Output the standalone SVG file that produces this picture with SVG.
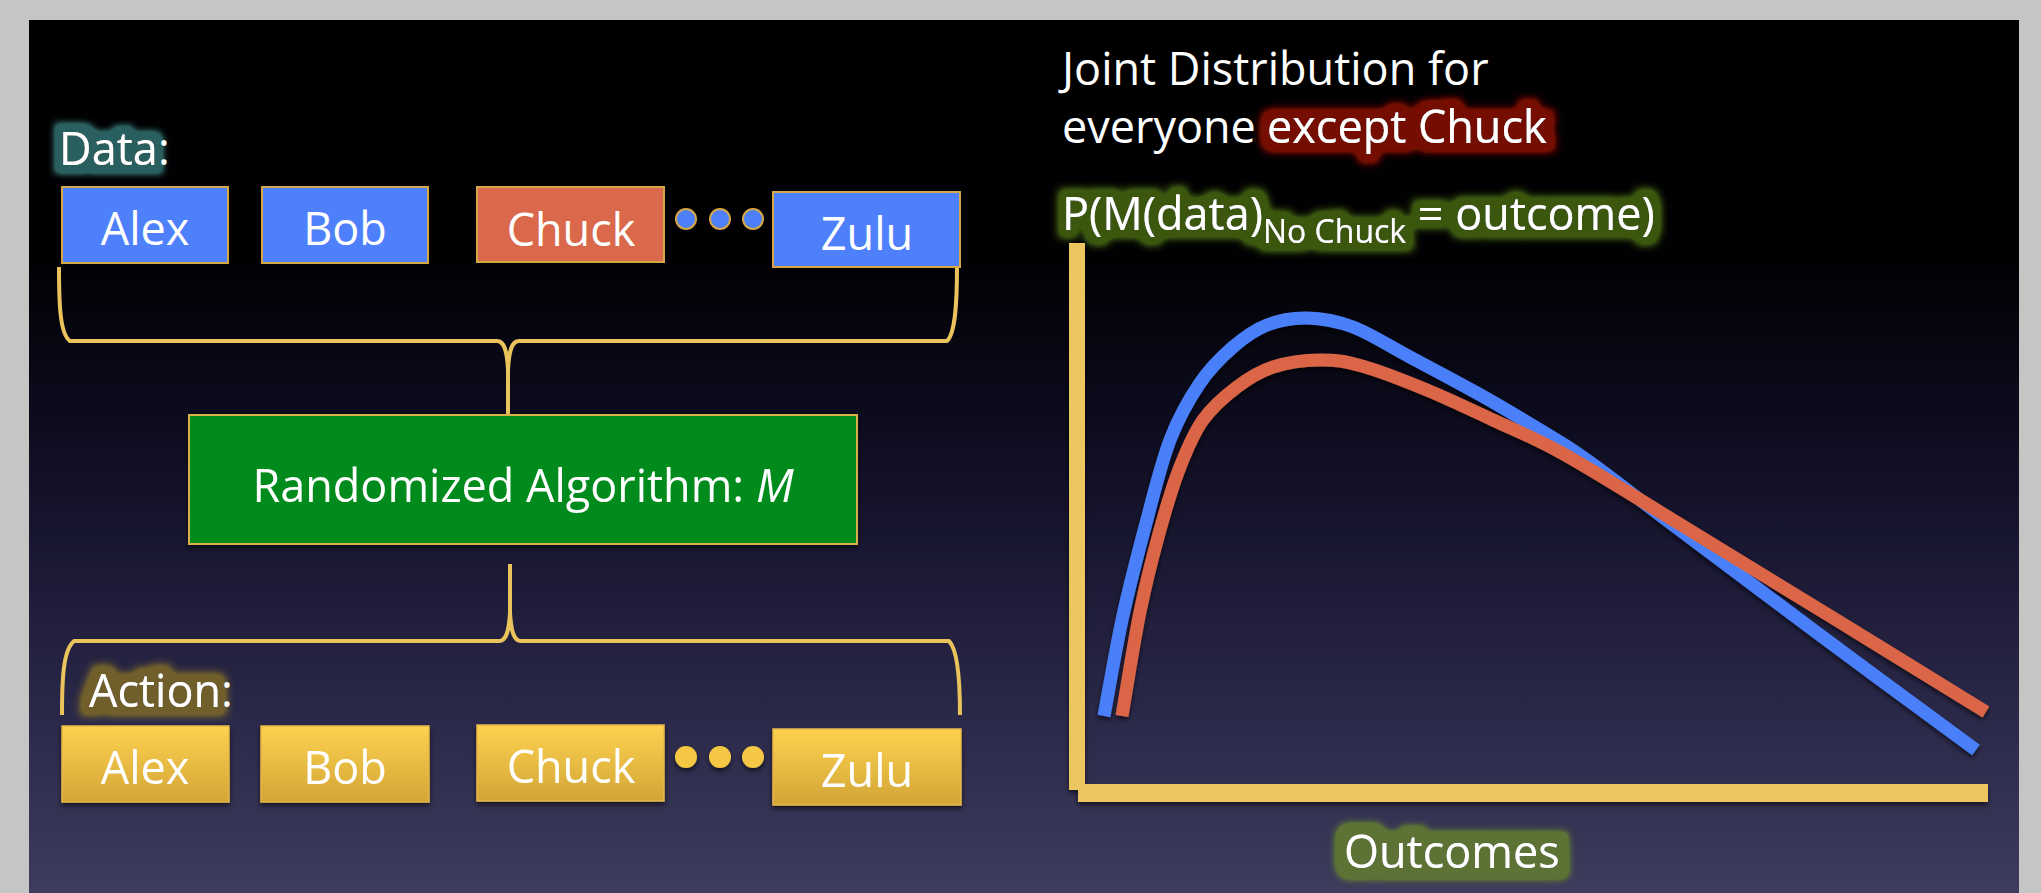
<svg xmlns="http://www.w3.org/2000/svg" width="2041" height="893" viewBox="0 0 2041 893">
  <defs>
    <linearGradient id="slideBg" x1="0" y1="0" x2="0" y2="1">
      <stop offset="0" stop-color="#000000"/>
      <stop offset="0.28" stop-color="#010104"/>
      <stop offset="0.45" stop-color="#0c0b1d"/>
      <stop offset="0.62" stop-color="#1a1833"/>
      <stop offset="0.8" stop-color="#2b2949"/>
      <stop offset="1" stop-color="#3d3c5c"/>
    </linearGradient>
    <linearGradient id="goldFill" x1="0" y1="0" x2="0" y2="1">
      <stop offset="0" stop-color="#fed250"/>
      <stop offset="1" stop-color="#d2a536"/>
    </linearGradient>
    <filter id="shadow" x="-10%" y="-20%" width="120%" height="160%">
      <feGaussianBlur in="SourceAlpha" stdDeviation="2.5"/>
      <feOffset dy="3" result="b"/>
      <feComponentTransfer><feFuncA type="linear" slope="0.6"/></feComponentTransfer>
      <feMerge><feMergeNode/><feMergeNode in="SourceGraphic"/></feMerge>
    </filter>
    <!-- soft coloured halo behind a text, text kept on top -->
    <filter id="haloTeal" x="-20%" y="-50%" width="140%" height="200%">
      <feMorphology in="SourceAlpha" operator="dilate" radius="8" result="d"/>
      <feGaussianBlur in="d" stdDeviation="3.5" result="b"/>
      <feComponentTransfer in="b" result="c"><feFuncA type="linear" slope="2"/></feComponentTransfer>
      <feFlood flood-color="#2c5f5e" result="f"/>
      <feComposite in="f" in2="c" operator="in" result="g"/>
      <feMerge><feMergeNode in="g"/><feMergeNode in="SourceGraphic"/></feMerge>
    </filter>
    <filter id="haloOlive" x="-20%" y="-50%" width="140%" height="200%">
      <feMorphology in="SourceAlpha" operator="dilate" radius="8" result="d"/>
      <feGaussianBlur in="d" stdDeviation="4.5" result="b"/>
      <feComponentTransfer in="b" result="c"><feFuncA type="linear" slope="1.8"/></feComponentTransfer>
      <feFlood flood-color="#6f5f2b" result="f"/>
      <feComposite in="f" in2="c" operator="in" result="g"/>
      <feMerge><feMergeNode in="g"/><feMergeNode in="SourceGraphic"/></feMerge>
    </filter>
    <filter id="haloRed" x="-20%" y="-50%" width="140%" height="200%">
      <feMorphology in="SourceAlpha" operator="dilate" radius="8" result="d"/>
      <feGaussianBlur in="d" stdDeviation="4.5" result="b"/>
      <feComponentTransfer in="b" result="c"><feFuncA type="linear" slope="2"/></feComponentTransfer>
      <feFlood flood-color="#740b03" result="f"/>
      <feComposite in="f" in2="c" operator="in" result="g"/>
      <feMerge><feMergeNode in="g"/><feMergeNode in="SourceGraphic"/></feMerge>
    </filter>
    <filter id="haloGreen" x="-10%" y="-50%" width="120%" height="200%">
      <feMorphology in="SourceAlpha" operator="dilate" radius="7" result="d"/>
      <feGaussianBlur in="d" stdDeviation="4.5" result="b"/>
      <feComponentTransfer in="b" result="c"><feFuncA type="linear" slope="2"/></feComponentTransfer>
      <feFlood flood-color="#3b5710" result="f"/>
      <feComposite in="f" in2="c" operator="in" result="g"/>
      <feMerge><feMergeNode in="g"/><feMergeNode in="SourceGraphic"/></feMerge>
    </filter>
    <filter id="haloMoss" x="-20%" y="-50%" width="140%" height="200%">
      <feMorphology in="SourceAlpha" operator="dilate" radius="11" result="d"/>
      <feGaussianBlur in="d" stdDeviation="3.5" result="b"/>
      <feComponentTransfer in="b" result="c"><feFuncA type="linear" slope="2"/></feComponentTransfer>
      <feFlood flood-color="#5c7335" result="f"/>
      <feComposite in="f" in2="c" operator="in" result="g"/>
      <feMerge><feMergeNode in="g"/><feMergeNode in="SourceGraphic"/></feMerge>
    </filter>
  </defs>
  <style>
    text { font-family: "Open Sans", "Noto Sans", "Liberation Sans", sans-serif; font-size: 45px; fill: #ffffff; }
    .mid { text-anchor: middle; }
    .box { stroke-width: 2; }
    .blue { fill: #4e80fc; stroke: #d6a747; }
    .chuck { fill: #da684a; stroke: #d6a747; }
    .gold { fill: url(#goldFill); stroke: #e4b84a; stroke-width: 1.5; }
    .dotBlue { fill: #4e80fc; stroke: #d6a747; stroke-width: 2; }
    .dotGold { fill: #f4c845; }
    .brace { fill: none; stroke: #ebc35c; stroke-width: 4; stroke-linejoin: round; }
    .axis { fill: #ecc75f; }
    .curve { fill: none; stroke-width: 13; stroke-linecap: butt; stroke-linejoin: round; }
  </style>

  <!-- page margin and slide -->
  <rect x="0" y="0" width="2041" height="893" fill="#c5c6c4"/>
  <rect x="29" y="20" width="1990" height="873" fill="url(#slideBg)"/>

  <!-- braces joining the rows to the algorithm -->
  <g id="connectors">
    <path class="brace" d="M59,267 C59,305 60,334 70,341 L497,341 C504,341 507,350 508,370 L508,415 M508,370 C509,350 512,341 519,341 L947,341 C955,334 957,305 957,267"/>
    <path class="brace" d="M62,715 C62,680 63,650 74,641 L499,641 C506,641 509,632 510,612 L510,564 M510,612 C511,632 514,641 521,641 L949,641 C958,650 960,680 960,715"/>
  </g>

  <!-- input row -->
  <g id="data-label">
    <text x="59" y="165" filter="url(#haloTeal)">Data</text>
    <text x="158" y="165">:</text>
  </g>
  <g id="data-alex">
    <rect class="box blue" x="62" y="187" width="166" height="76"/>
    <text class="mid" x="145" y="245">Alex</text>
  </g>
  <g id="data-bob">
    <rect class="box blue" x="262" y="187" width="166" height="76"/>
    <text class="mid" x="345" y="245">Bob</text>
  </g>
  <g id="data-chuck">
    <rect class="box chuck" x="477" y="187" width="187" height="75"/>
    <text class="mid" x="571" y="246">Chuck</text>
  </g>
  <g id="data-ellipsis">
    <circle class="dotBlue" cx="686" cy="219" r="10"/>
    <circle class="dotBlue" cx="720" cy="219" r="10"/>
    <circle class="dotBlue" cx="753" cy="219" r="10"/>
  </g>
  <g id="data-zulu">
    <rect class="box blue" x="773" y="192" width="187" height="75"/>
    <text class="mid" x="867" y="250">Zulu</text>
  </g>

  <!-- mechanism -->
  <g id="algorithm" filter="url(#shadow)">
    <rect x="189" y="415" width="668" height="129" fill="#028b1c" stroke="#d6b04a" stroke-width="2"/>
    <text class="mid" x="523" y="502">Randomized Algorithm: <tspan font-style="italic">M</tspan></text>
  </g>

  <!-- output row -->
  <g id="action-label">
    <text x="89" y="707" filter="url(#haloOlive)">Action</text>
    <text x="221" y="707">:</text>
  </g>
  <g id="action-alex" filter="url(#shadow)">
    <rect class="gold" x="62" y="726" width="167" height="76"/>
    <text class="mid" x="145" y="784">Alex</text>
  </g>
  <g id="action-bob" filter="url(#shadow)">
    <rect class="gold" x="261" y="726" width="168" height="76"/>
    <text class="mid" x="345" y="784">Bob</text>
  </g>
  <g id="action-chuck" filter="url(#shadow)">
    <rect class="gold" x="477" y="725" width="187" height="76"/>
    <text class="mid" x="571" y="783">Chuck</text>
  </g>
  <g id="action-ellipsis" filter="url(#shadow)">
    <circle class="dotGold" cx="686" cy="757" r="11"/>
    <circle class="dotGold" cx="720" cy="757" r="11"/>
    <circle class="dotGold" cx="753" cy="757" r="11"/>
  </g>
  <g id="action-zulu" filter="url(#shadow)">
    <rect class="gold" x="773" y="729" width="188" height="76"/>
    <text class="mid" x="867" y="787">Zulu</text>
  </g>

  <!-- distribution chart -->
  <g id="chart-title">
    <text x="1062" y="85">Joint Distribution for</text>
    <text x="1062" y="143">everyone</text>
    <text x="1267" y="143" filter="url(#haloRed)">except Chuck</text>
  </g>
  <g id="chart-ylabel">
    <text x="1062" y="230" filter="url(#haloGreen)">P(M(data)<tspan font-size="32" dy="13">No Chuck</tspan><tspan dy="-13"> = outcome)</tspan></text>
  </g>
  <g id="chart-axes" filter="url(#shadow)">
    <rect class="axis" x="1069" y="243" width="16" height="547"/>
    <rect class="axis" x="1078" y="784" width="910" height="18"/>
  </g>
  <g id="chart-curves" filter="url(#shadow)">
    <path class="curve" stroke="#4a7ff8" d="M1104,716 C1107,700 1115.2,651.5 1122,620 C1128.8,588.5 1137,557 1145,527 C1153,497 1160.8,464 1170,440 C1179.2,416 1189.5,398.5 1200,383 C1210.5,367.5 1221.8,356.7 1233,347 C1244.2,337.3 1254.7,329.8 1267,325 C1279.3,320.2 1292.7,317.7 1307,318 C1321.3,318.3 1335.8,320.5 1353,327 C1370.2,333.5 1389.3,346 1410,357 C1430.7,368 1452,379.2 1477,393 C1502,406.8 1527,422 1560,442 C1593,462 1616.7,482.5 1660,515 C1703.3,547.5 1767.3,595.8 1820,635 C1872.7,674.2 1950,730.8 1976,750"/>
    <path class="curve" stroke="#da6547" d="M1122,716 C1125,698.7 1133.7,643 1140,612 C1146.3,581 1153.3,554.2 1160,530 C1166.7,505.8 1172.8,485.3 1180,467 C1187.2,448.7 1193.5,433.3 1203,420 C1212.5,406.7 1225.3,395.8 1237,387 C1248.7,378.2 1259.2,371.5 1273,367 C1286.8,362.5 1305.2,360.2 1320,360 C1334.8,359.8 1344.2,361 1362,366 C1379.8,371 1405.2,381 1427,390 C1448.8,399 1470.8,409.7 1493,420 C1515.2,430.3 1532.2,436.7 1560,452 C1587.8,467.3 1615,484.5 1660,512 C1705,539.5 1775.7,582.7 1830,616 C1884.3,649.3 1960,696 1986,712"/>
  </g>
  <g id="chart-xlabel">
    <text x="1344" y="868" filter="url(#haloMoss)">Outcomes</text>
  </g>
</svg>
